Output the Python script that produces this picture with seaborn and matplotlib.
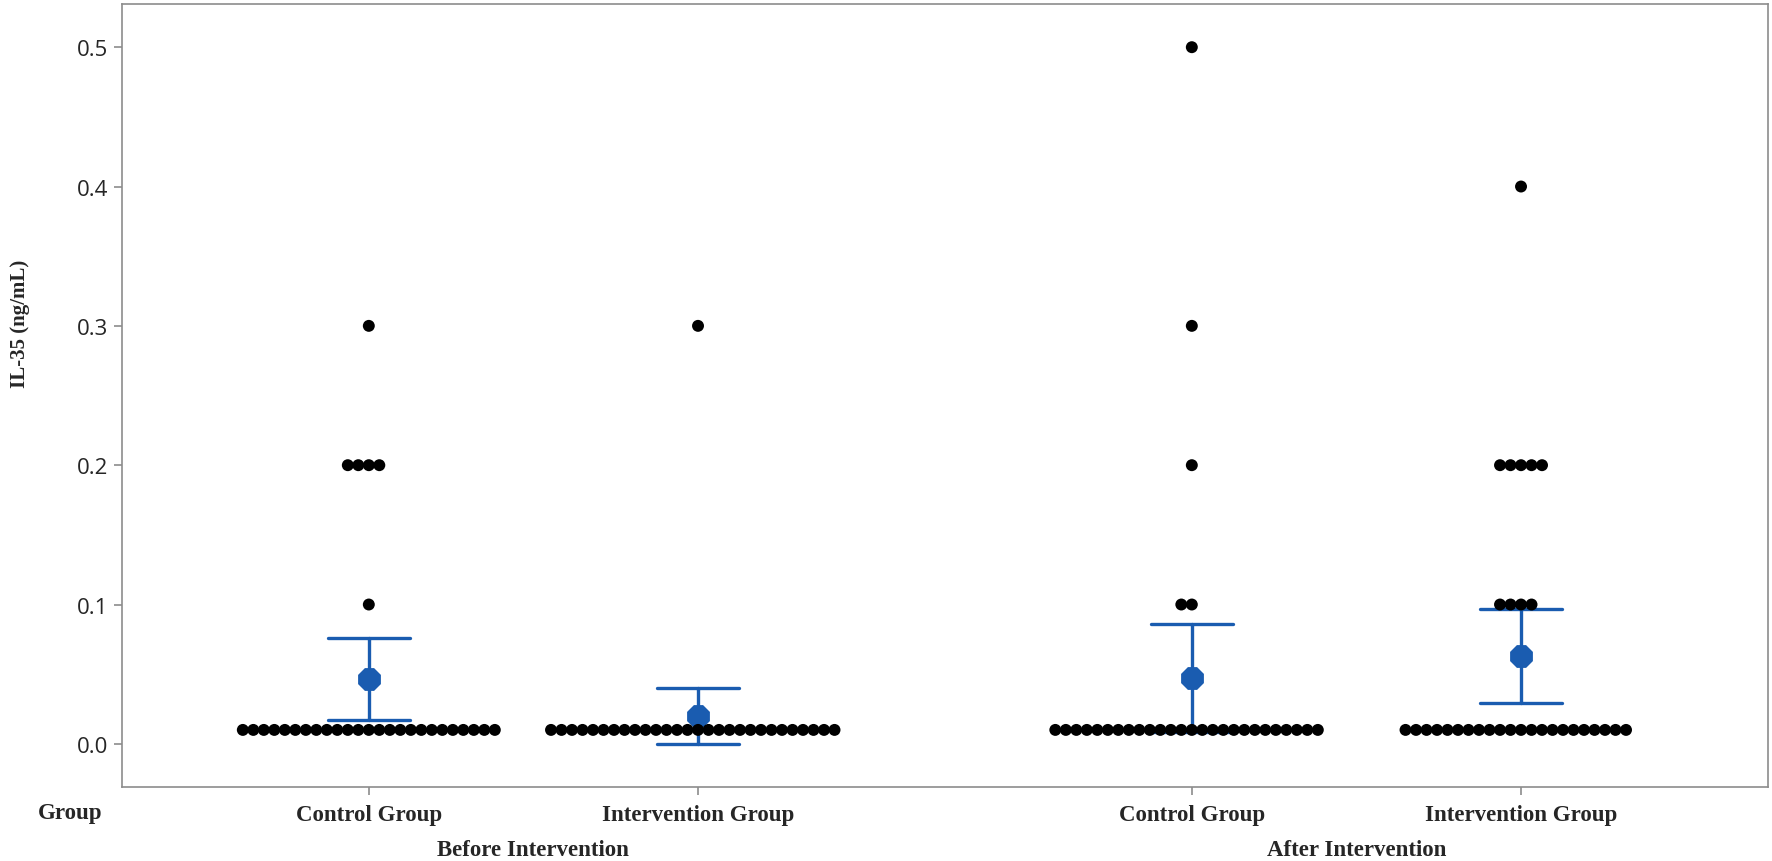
import numpy as np
import pandas as pd
import matplotlib.pyplot as plt
import seaborn as sns

# ===============================
# Data
# ===============================
phases = ["Before Intervention", "After Intervention"]
groups = ["Control Group", "Intervention Group"]
levels = [0.01, 0.1, 0.2, 0.3, 0.4, 0.5]

# number of subjects at each level
before_control = [25, 1, 4, 1, 0, 0]
before_intervention = [28, 0, 0, 1, 0, 0]
after_control = [26, 2, 1, 1, 0, 1]
after_intervention = [22, 4, 5, 0, 1, 0]

y_ticks = [0.0, 0.1, 0.2, 0.3, 0.4, 0.5]

rows = []
for phase, group, counts in [
    (phases[0], groups[0], before_control),
    (phases[0], groups[1], before_intervention),
    (phases[1], groups[0], after_control),
    (phases[1], groups[1], after_intervention),
]:
    for lv, n in zip(levels, counts):
        rows += [(phase, group, lv)] * n
df = pd.DataFrame(rows, columns=["Phase", "Group", "IL35"])

# ===============================
# Plot
# ===============================
sns.set_style("white")
plt.rcParams["font.family"] = ["Open Sans", "DejaVu Sans"]

blue = "#1a5cb0"
serif = ["Liberation Serif", "DejaVu Serif"]
dodge = 0.4

fig = plt.figure(figsize=(17.72, 8.62), dpi=100)
ax = fig.add_axes([0.0688, 0.0858, 0.9289, 0.9084])

# swarm laid out with slightly smaller dots so the rows overlap a little,
# like the original dot plot
sns.swarmplot(data=df, x="Phase", y="IL35", hue="Group", order=phases,
              hue_order=groups, dodge=True, palette=["black", "black"],
              size=7.2, legend=False, warn_thresh=1, ax=ax)
swarm_cols = list(ax.collections)

sns.pointplot(data=df, x="Phase", y="IL35", hue="Group", order=phases,
              hue_order=groups, dodge=dodge, palette=[blue, blue],
              marker="8", markersize=15, linestyle="none",
              errorbar=("se", 2.04), capsize=0.1,
              err_kws={"linewidth": 2.4}, legend=False, ax=ax)

ax.set_xlim(-0.5, 1.5)
ax.set_ylim(-0.031, 0.531)
ax.set_yticks(y_ticks)
ax.set_yticklabels([f"{v:.1f}" for v in y_ticks], fontsize=16)

xt = [i + o for i in range(len(phases)) for o in (-dodge / 2, dodge / 2)]
ax.set_xticks(xt)
ax.set_xticklabels(groups * len(phases), fontsize=16.5, fontweight="bold",
                   family=serif)
ax.set_xlabel("")
ax.set_ylabel("")

for i, phase in enumerate(phases):
    ax.text(i, -0.08, phase, transform=ax.get_xaxis_transform(),
            ha="center", va="center", fontsize=16.5, fontweight="bold",
            family=serif)

fig.text(38 / 1772, 1 - 814 / 862, "Group", ha="left", va="center",
         fontsize=16.5, fontweight="bold", family=serif)
fig.text(20 / 1772, 1 - 324 / 862, "IL-35 (ng/mL)", rotation=90,
         ha="center", va="center", fontsize=15, fontweight="bold",
         family=serif)

for s in ax.spines.values():
    s.set_color("#8c8c8c")
    s.set_linewidth(1.2)
ax.tick_params(axis="both", direction="out", length=6, width=1.2,
               color="#8c8c8c", pad=4, left=True, bottom=True)
ax.tick_params(axis="x", pad=6)

# place the swarm, then keep those positions and draw bigger dots
fig.canvas.draw()
for col in swarm_cols:
    if "draw" in col.__dict__:
        del col.draw
    col.set_sizes([8.6 ** 2])

fig.savefig("out.png", dpi=100)
